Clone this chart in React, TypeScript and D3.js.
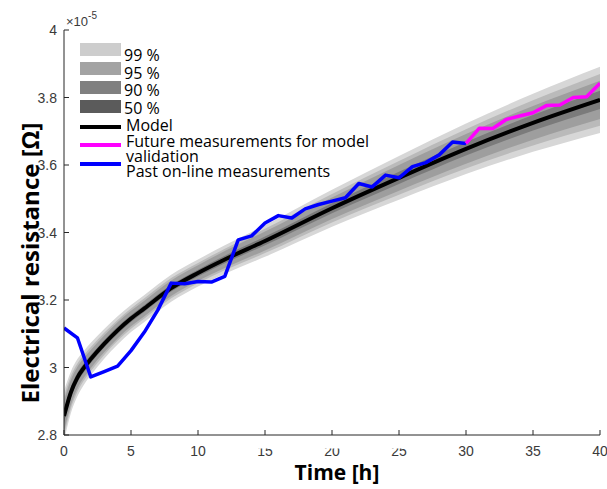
import React from "react";
import * as d3 from "d3";

// ---- data (values in units of 1e-5 Ω) ----
const modelTimes = [0, 0.5, 1, 1.5, 2, 3, 4, 5, 6, 8, 10, 12, 15, 20, 25, 30, 35, 40];
const modelValues = [2.856, 2.925, 2.97, 3.0, 3.025, 3.07, 3.11, 3.145, 3.175, 3.235, 3.28, 3.32, 3.375, 3.472, 3.562, 3.648, 3.725, 3.793];
const halfWidth99 = [0.075, 0.062, 0.055, 0.05, 0.048, 0.044, 0.042, 0.04, 0.04, 0.04, 0.04, 0.042, 0.047, 0.055, 0.065, 0.075, 0.086, 0.098];
const halfWidth95 = [0.058, 0.048, 0.042, 0.038, 0.036, 0.033, 0.031, 0.03, 0.03, 0.03, 0.03, 0.032, 0.036, 0.042, 0.05, 0.058, 0.067, 0.077];
const halfWidth90 = [0.045, 0.037, 0.032, 0.029, 0.027, 0.025, 0.024, 0.023, 0.023, 0.023, 0.023, 0.025, 0.028, 0.032, 0.038, 0.044, 0.05, 0.057];
const halfWidth50 = [0.02, 0.016, 0.014, 0.013, 0.012, 0.011, 0.011, 0.01, 0.01, 0.01, 0.01, 0.011, 0.013, 0.015, 0.018, 0.02, 0.023, 0.027];

const pastTimes = [0, 1, 2, 3, 4, 5, 6, 7, 8, 9, 10, 11, 12, 13, 14, 15, 16, 17, 18, 19, 20, 21, 22, 23, 24, 25, 26, 27, 28, 29, 30];
const pastValues = [3.117, 3.088, 2.972, 2.988, 3.004, 3.05, 3.105, 3.17, 3.25, 3.248, 3.255, 3.253, 3.27, 3.378, 3.39, 3.428, 3.45, 3.443, 3.47, 3.483, 3.493, 3.503, 3.545, 3.535, 3.57, 3.562, 3.595, 3.607, 3.63, 3.668, 3.664];

const futureTimes = [30, 31, 32, 33, 34, 35, 36, 37, 38, 39, 40];
const futureValues = [3.664, 3.709, 3.708, 3.735, 3.745, 3.755, 3.776, 3.778, 3.8, 3.802, 3.842];

const xTicks = [0, 5, 10, 15, 20, 25, 30, 35, 40];
const yTicks = [2.8, 3, 3.2, 3.4, 3.6, 3.8, 4];

const bandLabels = ["99 %", "95 %", "90 %", "50 %"];
const bandPlotColors = ["#d7d7d7", "#bababa", "#9e9e9e", "#7b7b7b"];
const bandLegendColors = ["#cdcdcd", "#a3a3a3", "#808080", "#5b5b5b"];
const lineLabels = ["Model", "Future measurements for model\nvalidation", "Past on-line measurements"];
const lineColors = ["#000000", "#ff00ff", "#0000ff"];

export default function App() {
  const W = 607, H = 489;
  const x = d3.scaleLinear().domain([0, 40]).range([64, 600]);
  const y = d3.scaleLinear().domain([2.8, 4]).range([435, 30]);

  const hws = [halfWidth99, halfWidth95, halfWidth90, halfWidth50];
  const bandPaths = hws.map((hw) =>
    d3
      .area<number>()
      .x((i) => x(modelTimes[i]))
      .y0((i) => y(modelValues[i] - hw[i]))
      .y1((i) => y(modelValues[i] + hw[i]))
      .curve(d3.curveMonotoneX)(modelTimes.map((_, i) => i)) as string
  );
  const modelPath = d3
    .line<number>()
    .x((i) => x(modelTimes[i]))
    .y((i) => y(modelValues[i]))
    .curve(d3.curveMonotoneX)(modelTimes.map((_, i) => i)) as string;
  const linear = (ts: number[], vs: number[]) =>
    d3
      .line<number>()
      .x((i) => x(ts[i]))
      .y((i) => y(vs[i]))(ts.map((_, i) => i)) as string;
  const pastPath = linear(pastTimes, pastValues);
  const futurePath = linear(futureTimes, futureValues);

  const tickFont = "'Liberation Sans', Arial, sans-serif";
  const labelFont = "'Open Sans', 'Noto Sans', sans-serif";
  const axisColor = "#262626";
  const tickColor = "#3a3a3a";

  const patchY = [43, 62, 81, 100];
  const bandTextY = [61, 79, 96, 114];
  const lineY = [127, 145, 164];
  const lineTextY = [131, 147, 177];

  return (
    <svg width={W} height={H} style={{ position: "absolute", left: 0, top: 0, background: "#fff" }}>
      <defs>
        <clipPath id="plotClip">
          <rect x={x(0)} y={y(4)} width={x(40) - x(0)} height={y(2.8) - y(4)} />
        </clipPath>
      </defs>
      <g clipPath="url(#plotClip)">
        {bandPaths.map((d, i) => (
          <path key={i} d={d} fill={bandPlotColors[i]} stroke="none" />
        ))}
        <path d={modelPath} fill="none" stroke="#000" strokeWidth={4} />
        <path d={pastPath} fill="none" stroke="#0000ff" strokeWidth={3.5} strokeLinejoin="round" />
        <path d={futurePath} fill="none" stroke="#ff00ff" strokeWidth={3.5} strokeLinejoin="round" />
      </g>

      {/* axes */}
      <line x1={x(0)} x2={x(0)} y1={y(4)} y2={y(2.8)} stroke={axisColor} strokeWidth={1} />
      <line x1={x(0)} x2={x(40)} y1={y(2.8)} y2={y(2.8)} stroke={axisColor} strokeWidth={1} />
      {yTicks.map((t) => (
        <g key={"y" + t}>
          <line x1={x(0)} x2={x(0) + 5} y1={y(t)} y2={y(t)} stroke={axisColor} strokeWidth={1} />
          <text x={57} y={y(t) + 5} textAnchor="end" fontFamily={tickFont} fontSize={14} fill={tickColor}>
            {d3.format("~g")(t)}
          </text>
        </g>
      ))}
      {xTicks.map((t) => (
        <g key={"x" + t}>
          <line x1={x(t)} x2={x(t)} y1={y(2.8)} y2={y(2.8) - 5} stroke={axisColor} strokeWidth={1} />
          <text x={x(t)} y={456} textAnchor="middle" fontFamily={tickFont} fontSize={14} fill={tickColor}>
            {t}
          </text>
        </g>
      ))}
      {/* white strip overlapping the tops of some tick labels */}
      <rect x={248} y={437} width={168} height={11.5} fill="#fff" />

      <text x={66} y={26} fontFamily={tickFont} fontSize={13} fill={tickColor}>
        ×10
        <tspan dy={-7} fontSize={10}>-5</tspan>
      </text>

      {/* axis titles */}
      <text x={337} y={480} textAnchor="middle" fontFamily={labelFont} fontWeight="bold" fontSize={21} fill="#000">
        Time [h]
      </text>
      <text
        transform={`translate(39,263) rotate(-90)`}
        textAnchor="middle"
        fontFamily={labelFont}
        fontWeight="bold"
        fontSize={24}
        fill="#000"
      >
        Electrical resistance [Ω]
      </text>

      {/* legend */}
      {bandLabels.map((lab, i) => (
        <g key={lab}>
          <rect x={80} y={patchY[i]} width={41} height={13} fill={bandLegendColors[i]} />
          <text x={124} y={bandTextY[i]} fontFamily={labelFont} fontSize={16} fill="#000">
            {lab}
          </text>
        </g>
      ))}
      {lineLabels.map((lab, i) => (
        <g key={lab}>
          <line x1={80} x2={121} y1={lineY[i]} y2={lineY[i]} stroke={lineColors[i]} strokeWidth={4} />
          {lab.split("\n").map((part, j) => (
            <text key={j} x={126} y={lineTextY[i] + j * 15} fontFamily={labelFont} fontSize={16} fill="#000">
              {part}
            </text>
          ))}
        </g>
      ))}
    </svg>
  );
}
